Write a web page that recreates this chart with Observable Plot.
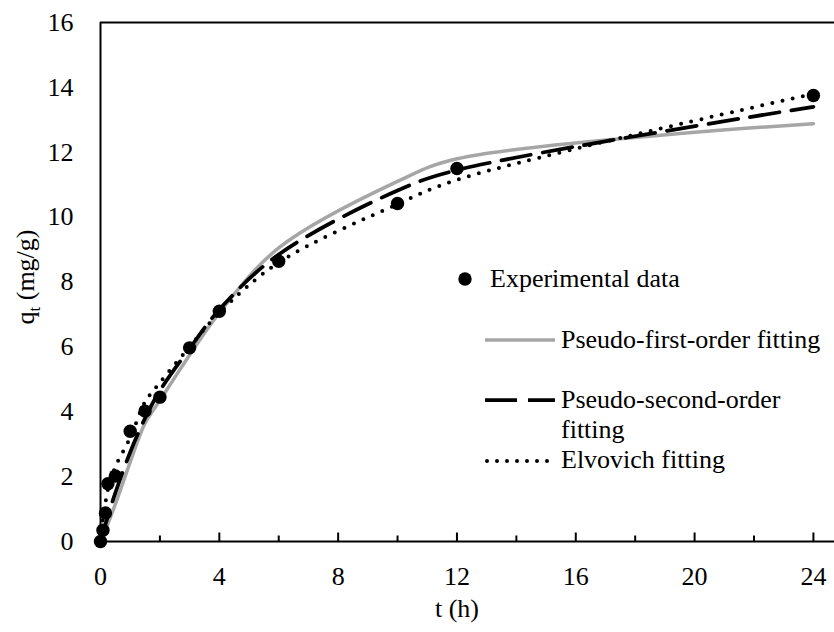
<!DOCTYPE html>
<html>
<head>
<meta charset="utf-8">
<script src="https://cdn.jsdelivr.net/npm/d3@7"></script>
<script src="https://cdn.jsdelivr.net/npm/@observablehq/plot@0.6"></script>
<style>
  html, body { margin: 0; padding: 0; background: white; }
  #chart { width: 834px; height: 632px; }
</style>
</head>
<body>
<div id="chart"></div>
<script>
// ---- data ----
const time         = [0, 0.083, 0.167, 0.25, 0.5, 1, 1.5, 2, 3, 4, 6, 10, 12, 24];
const experimental = [0, 0.35, 0.88, 1.78, 2.02, 3.40, 4.02, 4.45, 5.97, 7.10, 8.64, 10.42, 11.50, 13.75];
const pseudoFirst  = [0, 0.15, 0.35, 0.55, 1.15, 2.45, 3.65, 4.35, 5.75, 7.05, 9.05, 11.10, 11.80, 12.88];
const pseudoSecond = [0, 0.27, 0.53, 0.78, 1.50, 2.75, 3.80, 4.65, 5.95, 7.15, 8.85, 10.82, 11.45, 13.40];
const elovich      = [0, 0.70, 1.20, 1.60, 2.30, 3.20, 4.30, 4.90, 6.00, 7.05, 8.60, 10.40, 11.15, 13.80];

const xTicks      = [0, 4, 8, 12, 16, 20, 24];
const xMinorTicks = [2, 6, 10, 14, 18, 22];
const yTicks      = [0, 2, 4, 6, 8, 10, 12, 14, 16];

const legendLabels = ["Experimental data", "Pseudo-first-order fitting", "Pseudo-second-order", "fitting", "Elvovich fitting"];
const xTitle = "t (h)";

const toRows = (vals) => time.map((t, i) => ({t, q: vals[i]}));

const FONT = "'Liberation Serif', 'Times New Roman', serif";
const W = 834, H = 632, MT = 22, MB = 91, ML = 100, MR = 0;
const yMax = 16;
// tick lengths (pixels) expressed in y units
const perPx = yMax / (H - MT - MB);
const majorLen = 9 * perPx, minorLen = 6 * perPx;
const tickRows = (vals, len) => vals.map(v => ({x: v, y1: 0, y2: len}));

const plot = Plot.plot({
  width: W,
  height: H,
  marginLeft: ML,
  marginRight: MR,
  marginTop: MT,
  marginBottom: MB,
  style: {fontFamily: FONT, fontSize: "26px", color: "black", background: "white"},
  x: {domain: [0, 24.71]},
  y: {domain: [0, yMax]},
  marks: [
    Plot.axisY(yTicks, {tickSize: 0, tickPadding: 27, label: null, fontSize: 26}),
    Plot.axisX(xTicks, {tickSize: 0, tickPadding: 25, label: null, fontSize: 26}),
    // curves
    Plot.line(toRows(pseudoFirst), {x: "t", y: "q", curve: "catmull-rom", stroke: "#a6a6a6", strokeWidth: 3.5}),
    Plot.line(toRows(pseudoSecond), {x: "t", y: "q", curve: "catmull-rom", stroke: "black", strokeWidth: 3.75, strokeDasharray: "30 12"}),
    Plot.line(toRows(elovich), {x: "t", y: "q", curve: "catmull-rom", stroke: "black", strokeWidth: 4, strokeDasharray: "0 10.4", strokeLinecap: "round"}),
    // experimental points
    Plot.dot(toRows(experimental), {x: "t", y: "q", r: 6.7, fill: "black", stroke: "none"}),
    // frame lines
    Plot.ruleY([yMax], {stroke: "black", strokeWidth: 2}),
    Plot.ruleX([0], {stroke: "black", strokeWidth: 2}),
    Plot.ruleY([0], {stroke: "black", strokeWidth: 2}),
    // inward tick marks
    Plot.link(tickRows(xTicks, majorLen), {x1: "x", x2: "x", y1: "y1", y2: "y2", stroke: "black", strokeWidth: 2}),
    Plot.link(tickRows(xMinorTicks, minorLen), {x1: "x", x2: "x", y1: "y1", y2: "y2", stroke: "black", strokeWidth: 2})
  ]
});

document.getElementById("chart").appendChild(plot);

// ---- titles and legend ----
const svg = d3.select(plot);
const g = svg.append("g").attr("font-family", FONT).attr("font-size", 26)
  .attr("fill", "black").attr("text-anchor", "start");

// y-axis title with subscript
const yt = g.append("text")
  .attr("transform", "translate(34,277) rotate(-90)")
  .attr("text-anchor", "middle");
yt.append("tspan").text("q");
yt.append("tspan").attr("font-size", 17).attr("dy", 6).text("t");
yt.append("tspan").attr("dy", -6).text(" (mg/g)");

// x-axis title
g.append("text").attr("x", 457).attr("y", 617).attr("text-anchor", "middle").text(xTitle);

// legend
const lx0 = 485, lx1 = 555, tx = 561;
g.append("circle").attr("cx", 465).attr("cy", 279).attr("r", 6.7).attr("fill", "black");
g.append("text").attr("x", 490).attr("y", 287).text(legendLabels[0]);

g.append("line").attr("x1", lx0).attr("x2", lx1).attr("y1", 340).attr("y2", 340)
  .attr("stroke", "#a6a6a6").attr("stroke-width", 3.5);
g.append("text").attr("x", tx).attr("y", 348).text(legendLabels[1]);

g.append("line").attr("x1", lx0).attr("x2", lx1).attr("y1", 400).attr("y2", 400)
  .attr("stroke", "black").attr("stroke-width", 3.75).attr("stroke-dasharray", "32 11");
g.append("text").attr("x", tx).attr("y", 408).text(legendLabels[2]);
g.append("text").attr("x", tx).attr("y", 438).text(legendLabels[3]);

g.append("line").attr("x1", lx0 + 2).attr("x2", lx1).attr("y1", 461).attr("y2", 461)
  .attr("stroke", "black").attr("stroke-width", 4).attr("stroke-dasharray", "0 10")
  .attr("stroke-linecap", "round");
g.append("text").attr("x", tx).attr("y", 468).text(legendLabels[4]);
</script>
</body>
</html>
